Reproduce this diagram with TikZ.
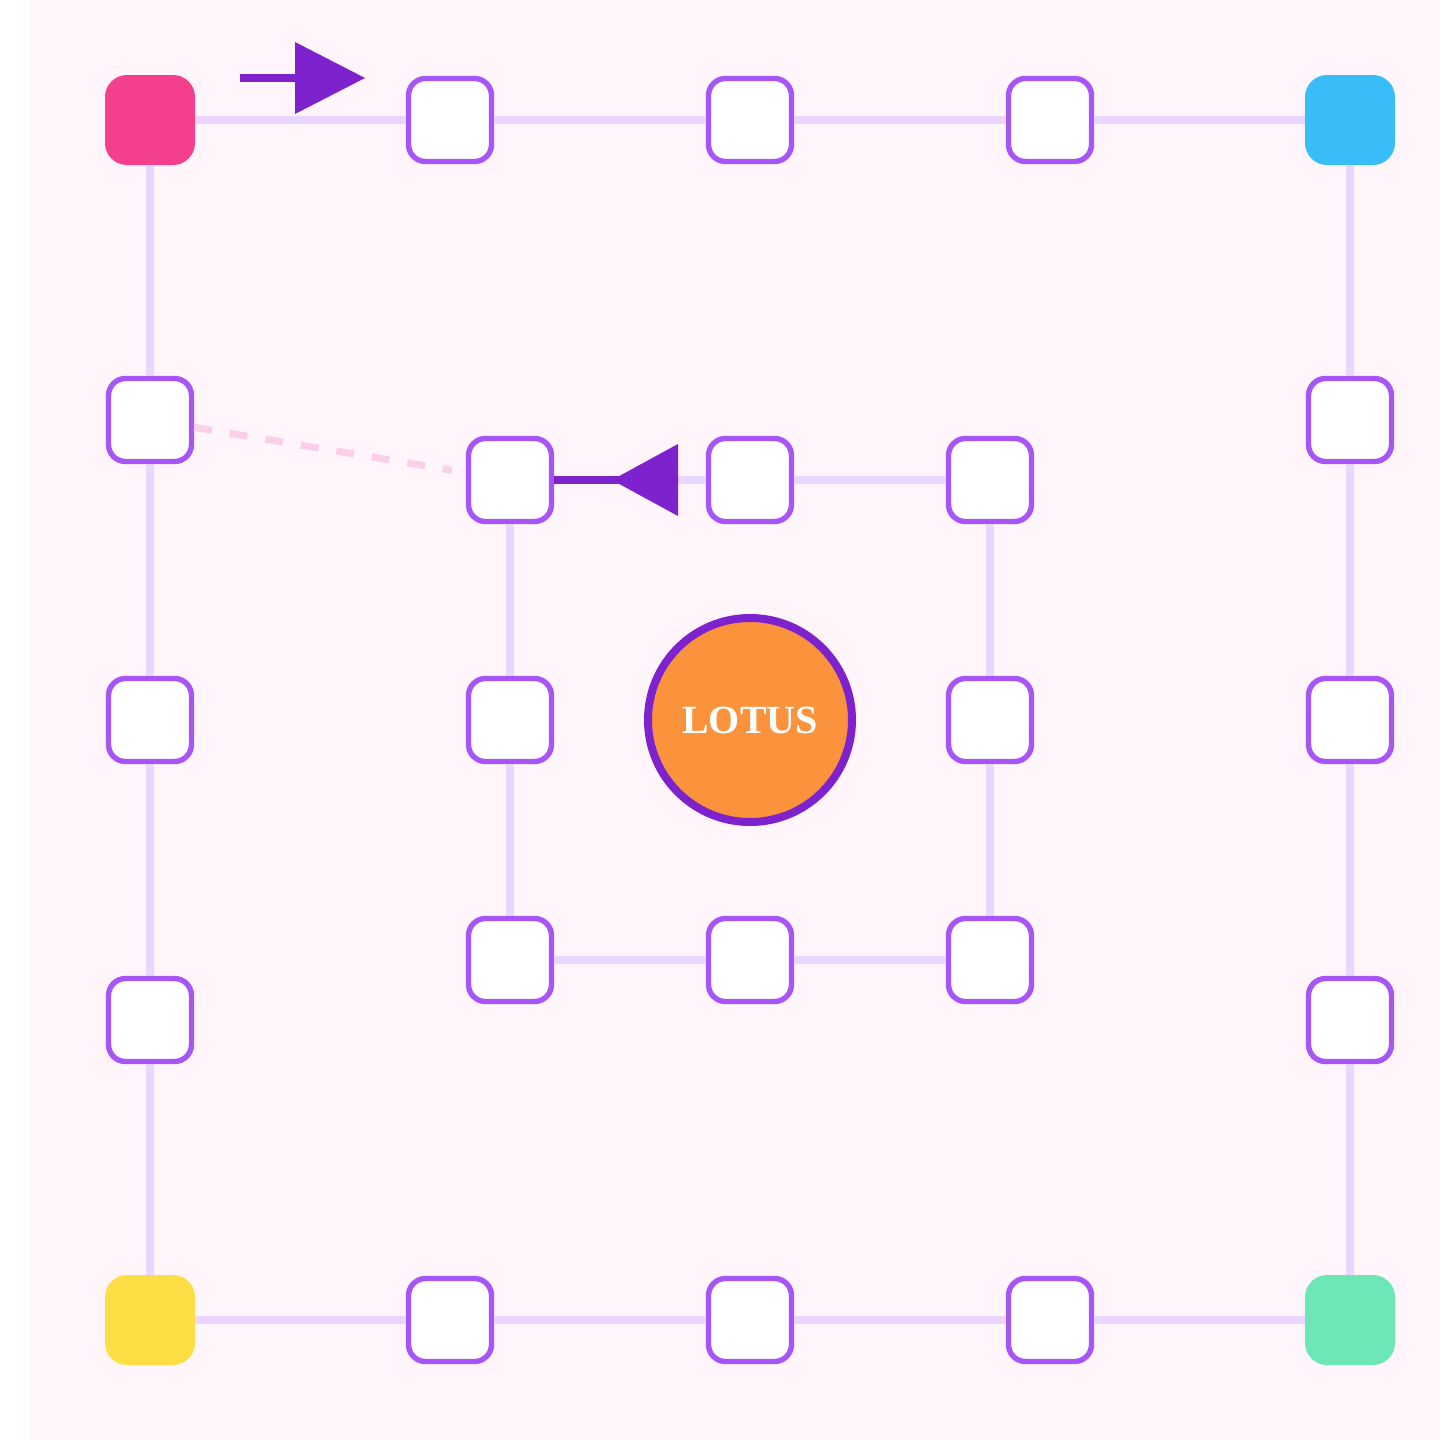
\documentclass[tikz,border=0pt]{standalone}
\usepackage{fontspec}
\setmainfont{Liberation Serif}
\definecolor{bgpink}{HTML}{FFF5FA}
\definecolor{edgec}{HTML}{E9D5FF}
\definecolor{nodepurple}{HTML}{A855F7}
\definecolor{darkc}{HTML}{7E22CE}
\definecolor{dashc}{HTML}{FBCFE8}
\definecolor{cpink}{HTML}{F4408C}
\definecolor{cblue}{HTML}{38BDF8}
\definecolor{cyellow}{HTML}{FDDE45}
\definecolor{cgreen}{HTML}{6EE7B7}
\definecolor{corange}{HTML}{FB923C}
\begin{document}
\begin{tikzpicture}[x=0.5pt,y=-0.5pt,
  wbox/.style={draw=nodepurple, line width=2.7pt, fill=white, rounded corners=8.5pt,
    minimum size=41.5pt, inner sep=0pt},
  cbox/.style={rounded corners=11pt, minimum size=45pt, inner sep=0pt},
  edge/.style={draw=edgec, line width=4pt},
  darkline/.style={draw=darkc, line width=4pt},
  dashedge/.style={draw=dashc, line width=3.5pt, dash pattern=on 9pt off 9pt},
  hub/.style={circle, draw=darkc, line width=4pt, fill=corange, minimum size=102pt,
    inner sep=0pt, text=white, font=\fontsize{20}{24}\selectfont\bfseries}]
\useasboundingbox (0,0) rectangle (1440,1440);
\fill[white] (0,0) rectangle (1440,1440);
\fill[bgpink] (30,0) rectangle (1440,1440);
% corner nodes
\node[cbox, fill=cpink] (C1) at (150,120) {};
\node[cbox, fill=cblue] (C2) at (1350,120) {};
\node[cbox, fill=cyellow] (C3) at (150,1320) {};
\node[cbox, fill=cgreen] (C4) at (1350,1320) {};
% outer ring
\node[wbox] (T1) at (450,120) {};
\node[wbox] (T2) at (750,120) {};
\node[wbox] (T3) at (1050,120) {};
\node[wbox] (R1) at (1350,420) {};
\node[wbox] (R2) at (1350,720) {};
\node[wbox] (R3) at (1350,1020) {};
\node[wbox] (B3) at (1050,1320) {};
\node[wbox] (B2) at (750,1320) {};
\node[wbox] (B1) at (450,1320) {};
\node[wbox] (L3) at (150,1020) {};
\node[wbox] (L2) at (150,720) {};
\node[wbox] (L1) at (150,420) {};
% inner ring
\node[wbox] (I1) at (510,480) {};
\node[wbox] (I2) at (750,480) {};
\node[wbox] (I3) at (990,480) {};
\node[wbox] (I4) at (990,720) {};
\node[wbox] (I5) at (990,960) {};
\node[wbox] (I6) at (750,960) {};
\node[wbox] (I7) at (510,960) {};
\node[wbox] (I8) at (510,720) {};
% hub
\node[hub] (H) at (750,720) {LOTUS};
% edges
\draw[edge] (C1) -- (T1) -- (T2) -- (T3) -- (C2);
\draw[edge] (C2) -- (R1) -- (R2) -- (R3) -- (C4);
\draw[edge] (C4) -- (B3) -- (B2) -- (B1) -- (C3);
\draw[edge] (C3) -- (L3) -- (L2) -- (L1) -- (C1);
\draw[edge] (I1) -- (I2) -- (I3) -- (I4) -- (I5) -- (I6) -- (I7) -- (I8) -- (I1);
% dashed link
\draw[dashedge, shorten >=7pt] (L1) -- (I1);
% top arrow
\coordinate (a0) at (240,78);
\coordinate (a1) at (295,78);
\draw[darkline] (a0) -- (a1);
\fill[darkc] (295,42) -- (365,78) -- (295,114) -- cycle;
% inner arrow
\coordinate (m0) at (640,480);
\draw[darkline] (I1) -- (m0);
\fill[darkc] (612,480) -- (678,444) -- (678,516) -- cycle;
\end{tikzpicture}
\end{document}
